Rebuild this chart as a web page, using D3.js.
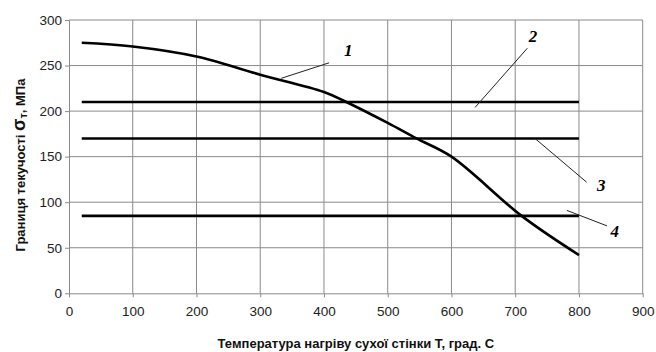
<!DOCTYPE html>
<html><head><meta charset="utf-8">
<script src="https://cdn.jsdelivr.net/npm/d3@7"></script>
<style>body{margin:0;background:#fff}svg{display:block}</style>
</head><body><svg id="c" width="656" height="352"></svg>
<script>
const xTicks = [0,100,200,300,400,500,600,700,800,900];
const yTicks = [0,50,100,150,200,250,300];
const curveT = [20,100,200,300,400,435,500,545,600,710,800];
const curveS = [275,271,260,240,221,210,187,170,150,85,42];
const levels = [210,170,85];
const levelStart = 20, levelEnd = 800;
const labels = ["1","2","3","4"];
const leaderFrom = [[333,236],[637,204],[731,170],[781,91]];
const leaderTo = [[408,253],[719,269],[812,122],[844,74]];
const labelPos = [[438,266],[728,282],[835,118],[856,68]];
const xTitle = "Температура нагріву сухої стінки Т, град. С";

const svg = d3.select("#c");
const x = d3.scaleLinear().domain([0,900]).range([69,642.7]);
const y = d3.scaleLinear().domain([0,300]).range([293.3,20]);
const grid = "#8a8a8a";

// grid
svg.append("g").selectAll("line").data(xTicks.slice(1)).join("line")
  .attr("x1",d=>x(d)).attr("x2",d=>x(d)).attr("y1",y(0)).attr("y2",y(300))
  .attr("stroke",grid).attr("stroke-width",1);
svg.append("g").selectAll("line").data(yTicks.slice(1)).join("line")
  .attr("x1",x(0)).attr("x2",x(900)).attr("y1",d=>y(d)).attr("y2",d=>y(d))
  .attr("stroke",grid).attr("stroke-width",1);

// axes
const xa = svg.append("g").attr("transform",`translate(0,${y(0)})`)
  .call(d3.axisBottom(x).tickValues(xTicks).tickSize(4).tickPadding(9).tickSizeOuter(0));
const ya = svg.append("g").attr("transform",`translate(${x(0)},0)`)
  .call(d3.axisLeft(y).tickValues(yTicks).tickSize(4).tickPadding(3).tickSizeOuter(0));
[xa,ya].forEach(a=>{
  a.selectAll("path,line").attr("stroke",grid);
  a.selectAll("text").attr("font-family","Liberation Sans, Arial, sans-serif")
   .attr("font-size","13.5px").attr("fill","#222");
});

// horizontal levels
svg.append("g").selectAll("line").data(levels).join("line")
  .attr("x1",x(levelStart)).attr("x2",x(levelEnd)).attr("y1",d=>y(d)).attr("y2",d=>y(d))
  .attr("stroke","#000").attr("stroke-width",2.6);

// curve
const pts = curveT.map((t,i)=>[t,curveS[i]]);
svg.append("path").datum(pts)
  .attr("d",d3.line().x(d=>x(d[0])).y(d=>y(d[1])).curve(d3.curveCatmullRom.alpha(0.5)))
  .attr("fill","none").attr("stroke","#000").attr("stroke-width",2.6);

// leaders
svg.append("g").selectAll("line").data(labels).join("line")
  .attr("x1",(d,i)=>x(leaderFrom[i][0])).attr("y1",(d,i)=>y(leaderFrom[i][1]))
  .attr("x2",(d,i)=>x(leaderTo[i][0])).attr("y2",(d,i)=>y(leaderTo[i][1]))
  .attr("stroke","#222").attr("stroke-width",1);
svg.append("g").selectAll("text").data(labels).join("text")
  .attr("x",(d,i)=>x(labelPos[i][0])).attr("y",(d,i)=>y(labelPos[i][1]))
  .attr("text-anchor","middle").attr("dominant-baseline","central")
  .attr("font-family","Liberation Serif, Times New Roman, serif")
  .attr("font-style","italic").attr("font-weight","bold").attr("font-size","17px")
  .text(d=>d);

// titles
svg.append("text").attr("x",(x(0)+x(900))/2).attr("y",348)
  .attr("text-anchor","middle").attr("font-family","Liberation Sans, Arial, sans-serif")
  .attr("font-weight","bold").attr("font-size","13px").attr("fill","#111").text(xTitle);
const yt = svg.append("text").attr("transform","translate(25,165) rotate(-90)")
  .attr("text-anchor","middle").attr("font-family","Liberation Sans, Arial, sans-serif")
  .attr("font-weight","bold").attr("font-size","13px").attr("fill","#111");
yt.append("tspan").text("Границя текучості ");
yt.append("tspan").attr("font-size","18px").text("σ");
yt.append("tspan").attr("font-size","11px").attr("dy","2").text("т");
yt.append("tspan").attr("dy","-2").text(", МПа");
</script></body></html>
